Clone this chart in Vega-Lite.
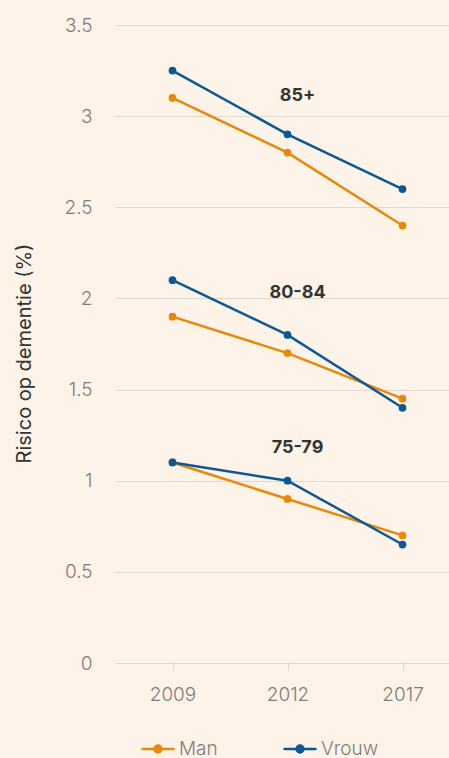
{
  "$schema": "https://vega.github.io/schema/vega-lite/v6.json",
  "width": 345,
  "height": 638,
  "autosize": "none",
  "padding": {"left": 115, "top": 25, "right": -11, "bottom": 95},
  "background": "#fdf3e9",
  "config": {"view": {"stroke": null}, "font": "Inter"},
  "data": {
    "values": [
      {"group": "85+", "sex": "Man", "year": "2009", "value": 3.1},
      {"group": "85+", "sex": "Man", "year": "2012", "value": 2.8},
      {"group": "85+", "sex": "Man", "year": "2017", "value": 2.4},
      {"group": "80-84", "sex": "Man", "year": "2009", "value": 1.9},
      {"group": "80-84", "sex": "Man", "year": "2012", "value": 1.7},
      {"group": "80-84", "sex": "Man", "year": "2017", "value": 1.45},
      {"group": "75-79", "sex": "Man", "year": "2009", "value": 1.1},
      {"group": "75-79", "sex": "Man", "year": "2012", "value": 0.9},
      {"group": "75-79", "sex": "Man", "year": "2017", "value": 0.7},
      {"group": "85+", "sex": "Vrouw", "year": "2009", "value": 3.25},
      {"group": "85+", "sex": "Vrouw", "year": "2012", "value": 2.9},
      {"group": "85+", "sex": "Vrouw", "year": "2017", "value": 2.6},
      {"group": "80-84", "sex": "Vrouw", "year": "2009", "value": 2.1},
      {"group": "80-84", "sex": "Vrouw", "year": "2012", "value": 1.8},
      {"group": "80-84", "sex": "Vrouw", "year": "2017", "value": 1.4},
      {"group": "75-79", "sex": "Vrouw", "year": "2009", "value": 1.1},
      {"group": "75-79", "sex": "Vrouw", "year": "2012", "value": 1.0},
      {"group": "75-79", "sex": "Vrouw", "year": "2017", "value": 0.65}
    ]
  },
  "encoding": {
    "x": {
      "field": "year",
      "type": "ordinal",
      "scale": {"type": "point", "padding": 0.5},
      "axis": {
        "title": null,
        "labelAngle": 0,
        "domain": false,
        "grid": false,
        "ticks": true,
        "tickColor": "#ddd5cc",
        "tickSize": 7,
        "labelColor": "#857b75",
        "labelFontSize": 19,
        "labelFontWeight": 300,
        "labelPadding": 15
      }
    },
    "y": {
      "field": "value",
      "type": "quantitative",
      "scale": {"domain": [0, 3.5]},
      "axis": {
        "values": [0, 0.5, 1, 1.5, 2, 2.5, 3, 3.5],
        "format": ".1~f",
        "title": "Risico op dementie (%)",
        "domain": false,
        "ticks": false,
        "grid": true,
        "gridColor": "#e0d8cf",
        "labelPadding": 23,
        "labelFontSize": 19,
        "labelFontWeight": 300,
        "labelColor": "#857b75",
        "titleFontSize": 20,
        "titleFontWeight": 400,
        "titleColor": "#333333",
        "titleX": -91,
        "titleY": 328,
        "titleAngle": -90,
        "titleBaseline": "middle",
        "titleAlign": "center"
      }
    }
  },
  "layer": [
    {
      "mark": {"type": "line", "strokeWidth": 2.5},
      "encoding": {
        "detail": {"field": "group"},
        "color": {
          "field": "sex",
          "type": "nominal",
          "scale": {"domain": ["Man", "Vrouw"], "range": ["#e8870a", "#0b5894"]},
          "legend": {
            "orient": "none",
            "legendX": 25,
            "legendY": 706,
            "direction": "horizontal",
            "title": null,
            "symbolType": "M-1,0L1,0M-0.21,0A0.21,0.21,0,1,1,0.21,0A0.21,0.21,0,1,1,-0.21,0Z",
            "symbolSize": 1089,
            "symbolStrokeWidth": 2.5,
            "labelFontSize": 19,
            "labelFontWeight": 300,
            "labelColor": "#857b75",
            "labelOffset": 3,
            "columnPadding": 60,
            "encode": {"symbols": {"update": {"fill": {"scale": "color", "field": "value"}, "stroke": {"scale": "color", "field": "value"}}}}
          }
        }
      }
    },
    {
      "mark": {"type": "circle", "size": 60, "opacity": 1},
      "encoding": {
        "color": {"field": "sex", "type": "nominal"}
      }
    },
    {
      "data": {
        "values": [
          {"label": "85+", "year": "2012", "value": 3.11},
          {"label": "80-84", "year": "2012", "value": 2.03},
          {"label": "75-79", "year": "2012", "value": 1.18}
        ]
      },
      "mark": {"type": "text", "fontSize": 18, "fontWeight": "bold", "color": "#333333", "dx": 10},
      "encoding": {
        "text": {"field": "label"}
      }
    }
  ]
}
